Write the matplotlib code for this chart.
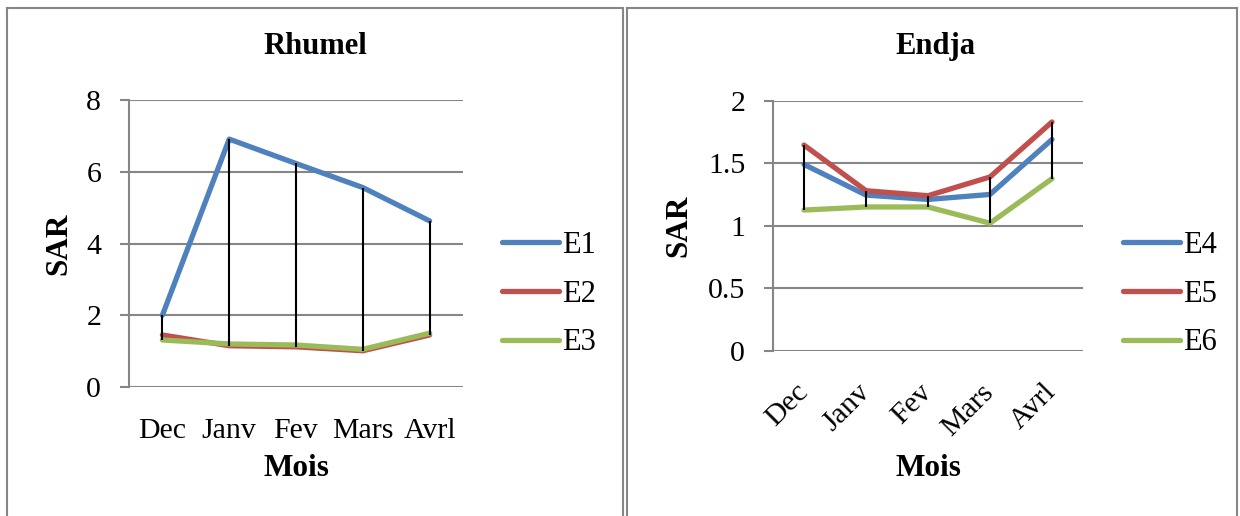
import matplotlib
matplotlib.use("Agg")
import matplotlib.pyplot as plt
from matplotlib.lines import Line2D

plt.rcParams['font.family'] = ['Liberation Serif', 'DejaVu Serif']

months = ['Dec', 'Janv', 'Fev', 'Mars', 'Avrl']

# Rhumel
e1 = [2.00, 6.91, 6.23, 5.56, 4.63]
e2 = [1.45, 1.15, 1.12, 1.01, 1.45]
e3 = [1.31, 1.20, 1.17, 1.05, 1.50]

# Endja
e4 = [1.49, 1.245, 1.21, 1.25, 1.69]
e5 = [1.645, 1.28, 1.24, 1.39, 1.83]
e6 = [1.125, 1.15, 1.15, 1.02, 1.376]

blue = '#4F81BD'
red = '#C0504D'
green = '#9BBB59'
grey = '#868686'

W, H = 1240, 516
fig = plt.figure(figsize=(12.4, 5.16), dpi=100)


def fx(px):
    return px / W


def fy(py):
    return 1 - py / H


# panel borders
for x0, x1 in [(7, 623), (627, 1237)]:
    kw = dict(color=grey, lw=1.5, transform=fig.transFigure)
    fig.add_artist(Line2D([fx(x0), fx(x0)], [fy(8), 0], **kw))
    fig.add_artist(Line2D([fx(x1), fx(x1)], [fy(8), 0], **kw))
    fig.add_artist(Line2D([fx(x0), fx(x1)], [fy(8), fy(8)], **kw))


def panel(rect, series, names, ymax, ystep, rotate, title, tx, sar_xy, mois_xy, leg_x):
    ax = fig.add_axes(rect)
    x = range(len(months))
    cols = [blue, red, green]
    for s, c, n in zip(series, cols, names):
        ax.plot(x, s, color=c, lw=3.8, label=n, solid_capstyle='round',
                solid_joinstyle='round', zorder=3)
    lo = [min(v) for v in zip(*series)]
    hi = [max(v) for v in zip(*series)]
    ax.vlines(x, lo, hi, color='black', lw=1.5, zorder=4)

    ax.set_xlim(-0.5, 4.5)
    ax.set_ylim(0, ymax)
    ticks = [i * ystep for i in range(int(round(ymax / ystep)) + 1)]
    ax.set_yticks(ticks)
    ax.set_yticklabels(['%g' % t for t in ticks])
    ax.set_xticks(list(x))
    ax.set_xticklabels(months)
    ax.grid(axis='y', color=grey, lw=1.5, zorder=1)
    for sp in ['top', 'right', 'bottom']:
        ax.spines[sp].set_visible(False)
    ax.spines['left'].set_color(grey)
    ax.spines['left'].set_linewidth(1.5)
    ax.tick_params(axis='y', length=6.5, width=1.5, color=grey, labelsize=21.5, pad=13.5)
    if rotate:
        ax.tick_params(axis='x', length=0, labelsize=21.5, pad=27)
        plt.setp(ax.get_xticklabels(), rotation=45, ha='right', va='center',
                 rotation_mode='anchor')
    else:
        ax.tick_params(axis='x', length=0, labelsize=21.5, pad=22)

    fig.text(fx(tx), fy(47), title, ha='center', va='center', fontsize=22, fontweight='bold')
    fig.text(fx(sar_xy[0]), fy(sar_xy[1]), 'SAR', ha='center', va='center', rotation=90,
             fontsize=22.5, fontweight='bold')
    fig.text(fx(mois_xy[0]), fy(mois_xy[1]), 'Mois', ha='center', va='center',
             fontsize=22.5, fontweight='bold')
    fig.legend(handles=ax.get_lines(), loc='center left',
               bbox_to_anchor=(fx(leg_x), fy(294)), frameon=False, fontsize=22,
               handlelength=1.85, handletextpad=0.1, labelspacing=0.65, borderpad=0,
               borderaxespad=0)
    return ax


panel([fx(129), fy(387), fx(463) - fx(129), fy(100) - fy(387)],
      [e1, e2, e3], ['E1', 'E2', 'E3'], 8, 2, False,
      'Rhumel', 315, (59, 244), (296, 469), 502)

panel([fx(773), fy(350.7), fx(1083) - fx(773), fy(100.7) - fy(350.7)],
      [e4, e5, e6], ['E4', 'E5', 'E6'], 2, 0.5, True,
      'Endja', 936, (679, 226), (928, 468), 1123)

fig.savefig('out.png', dpi=100)
